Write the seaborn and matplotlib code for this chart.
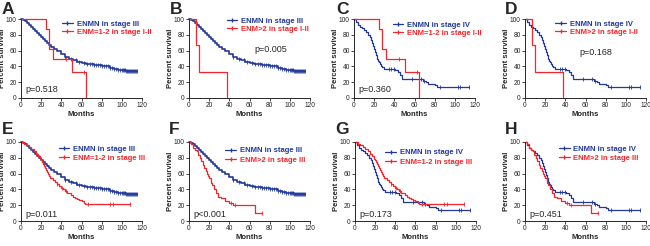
import matplotlib
matplotlib.use("Agg")
import matplotlib.pyplot as plt
from matplotlib.lines import Line2D
import numpy as np
import pandas as pd
import seaborn as sns

# Kaplan-Meier step curves (months, percent survival)
enmn3_t = [0, 2, 4, 6, 8, 10, 12, 14, 16, 18, 20, 22, 24, 26, 28, 30, 33, 36, 40, 44, 48, 52,
           56, 60, 64, 68, 72, 76, 80, 84, 88, 92, 96, 100, 104, 110, 115]
enmn3_s = [100, 99, 97.5, 95.5, 93, 90, 87, 85, 82.5, 80, 77.5, 75, 72, 69.5, 67, 65, 62, 59,
           55.5, 52.5, 50, 47.5, 45.5, 44, 43, 42.5, 42, 41.5, 41, 40, 38.5, 37, 35.5, 35,
           34.5, 34.5, 34.5]
enmn3_cens = [44, 50, 55, 58, 62, 65, 68, 70, 72, 74, 76, 78, 80, 82, 84, 86, 88, 90, 92, 94,
              96, 98, 100, 101, 102, 103, 104, 105, 106, 107, 108, 109, 110, 111, 112, 113, 114, 115]

enmn4_t = [0, 2, 4, 6, 8, 10, 12, 14, 16, 17, 18, 19, 20, 21, 22, 23, 24, 25, 26, 27, 28, 30,
           41, 44, 46, 48, 68, 71, 73, 80, 82, 114]
enmn4_s = [100, 96, 93, 90, 88, 86, 83, 80, 77, 73, 70, 66, 62, 58, 54, 50, 47, 45, 43, 41,
           39, 37, 36, 33, 29, 24, 22, 20, 18, 17, 14, 14]
enmn4_cens = [35, 37, 40, 58, 66, 69, 85, 103, 105, 114]

low12_t = [0, 24.5, 28, 32, 50.5, 64.5]
low12_s = [100, 87.5, 62.5, 50, 33.3, 0]
low12_cens = [45, 62]

low2_t = [0, 6.5, 10, 38]
low2_s = [100, 66.7, 33.3, 0]
low2_cens = []

st3_12_t = [0, 3, 5, 8, 10, 13, 15, 17, 19, 20, 21, 22, 23, 24, 25, 26, 27, 28, 29, 30, 32, 34,
            36, 38, 40, 42, 44, 46, 48, 50, 52, 54, 56, 58, 60, 62, 63, 108]
st3_12_s = [100, 98, 96.5, 94, 91, 88, 85, 82, 79, 77, 75, 72, 70, 67, 65, 62, 59, 57, 55, 54,
            52, 50, 47, 44, 42, 40, 38, 36, 35, 33, 31, 29, 28, 27, 25, 23, 22, 22]
st3_12_cens = [36, 41, 45, 66, 88, 91, 108]

st3_2_t = [0, 2, 4, 6, 8, 9, 11, 12, 14, 15, 17, 18, 19, 20, 22, 23, 25, 27, 29, 32, 36, 40,
           44, 65, 72]
st3_2_s = [100, 97, 92, 90, 88, 84, 80, 76, 71, 67, 63, 60, 57, 54, 48, 46, 40, 35, 31, 29,
           25, 23, 20, 10, 10]
st3_2_cens = [42, 46, 72]

curves = {
    "enmn3": (enmn3_t, enmn3_s, enmn3_cens),
    "enmn4": (enmn4_t, enmn4_s, enmn4_cens),
    "low12": (low12_t, low12_s, low12_cens),
    "low2": (low2_t, low2_s, low2_cens),
    "st3_12": (st3_12_t, st3_12_s, st3_12_cens),
    "st3_2": (st3_2_t, st3_2_s, st3_2_cens),
}

labels = {
    "enmn3": "ENMN in stage III",
    "enmn4": "ENMN in stage IV",
    "low12": "ENM=1-2 in stage I-II",
    "low2": "ENM>2 in stage I-II",
    "st3_12": "ENM=1-2 in stage III",
    "st3_2": "ENM>2 in stage III",
}

# letter, blue group, red group, p text, p position (axes coords)
panels = [
    ("A", "enmn3", "low12", "p=0.518", (0.04, 0.11)),
    ("B", "enmn3", "low2", "p=0.005", (0.54, 0.61)),
    ("C", "enmn4", "low12", "p=0.360", (0.04, 0.11)),
    ("D", "enmn4", "low2", "p=0.168", (0.45, 0.58)),
    ("E", "enmn3", "st3_12", "p=0.011", (0.04, 0.08)),
    ("F", "enmn3", "st3_2", "p<0.001", (0.04, 0.08)),
    ("G", "enmn4", "st3_12", "p=0.173", (0.04, 0.08)),
    ("H", "enmn4", "st3_2", "p=0.451", (0.04, 0.08)),
]

ax_lefts = [21, 189, 354, 525, 21, 189, 355, 525]
ax_tops = [19, 19, 19, 19, 142, 142, 142, 142]
letter_x = [2, 170, 336, 505, 2, 169, 335, 505]
letter_y = [2, 2, 2, 2, 122, 122, 122, 122]
leg_anchor = [(0.34, 0.985), (0.31, 1.02), (0.32, 0.97), (0.25, 0.985),
              (0.31, 0.96), (0.30, 0.935), (0.25, 0.91), (0.28, 0.96)]

BLUE = "#22399a"
RED = "#f4262b"

sns.set_style("ticks")
plt.rcParams["font.family"] = ["Liberation Sans", "DejaVu Sans"]
plt.rcParams["axes.linewidth"] = 0.7

W, H = 650, 246
fig = plt.figure(figsize=(6.5, 2.46), dpi=100)


def surv_at(t, s, x):
    i = np.searchsorted(t, x, side="right") - 1
    return np.array(s)[i]


for k, (letter, bkey, rkey, ptxt, ppos) in enumerate(panels):
    left = ax_lefts[k] / W
    bottom = 1 - (ax_tops[k] + 79) / H
    ax = fig.add_axes([left, bottom, 121 / W, 79 / H])
    handles = []
    for key, col in [(bkey, BLUE), (rkey, RED)]:
        t, s, cens = curves[key]
        lw = 1.2 if key == "enmn3" else 0.9
        df = pd.DataFrame({"t": t, "s": s})
        sns.lineplot(data=df, x="t", y="s", ax=ax, color=col, lw=lw,
                     drawstyle="steps-post", estimator=None, sort=False, clip_on=False)
        if cens:
            cdf = pd.DataFrame({"t": cens, "s": surv_at(t, s, cens)})
            sns.scatterplot(data=cdf, x="t", y="s", ax=ax, color=col, marker="|",
                            s=9, linewidth=0.6, clip_on=False)
        handles.append(Line2D([], [], color=col, lw=0.9, marker="|", markersize=3,
                              label=labels[key]))
    ax.set_xlim(0, 120)
    ax.set_ylim(0, 100)
    ax.set_xticks(range(0, 121, 20))
    ax.set_yticks(range(0, 101, 20))
    ax.tick_params(labelsize=4.8, length=2, width=0.6, pad=1)
    ax.set_xlabel("Months", fontsize=5.5, fontweight="bold", labelpad=1.5)
    ax.set_ylabel("Percent survival", fontsize=5.5, fontweight="bold")
    ax.yaxis.set_label_coords(-15 / 121, 0.5)
    sns.despine(ax=ax)
    top_row = k < 4
    ax.legend(handles=handles, loc="upper left", bbox_to_anchor=leg_anchor[k],
              frameon=False, handlelength=1.4, handletextpad=0.5,
              labelspacing=0.1 if top_row else 0.3, borderaxespad=0, borderpad=0,
              labelcolor="linecolor", prop={"weight": "bold", "size": 5.5})
    ax.text(ppos[0], ppos[1], ptxt, transform=ax.transAxes, fontsize=6.5,
            va="center", ha="left")
    fig.text(letter_x[k] / W, 1 - letter_y[k] / H, letter, fontsize=12.5,
             fontweight="bold", va="top", ha="left")

fig.savefig("out.png", dpi=100)
